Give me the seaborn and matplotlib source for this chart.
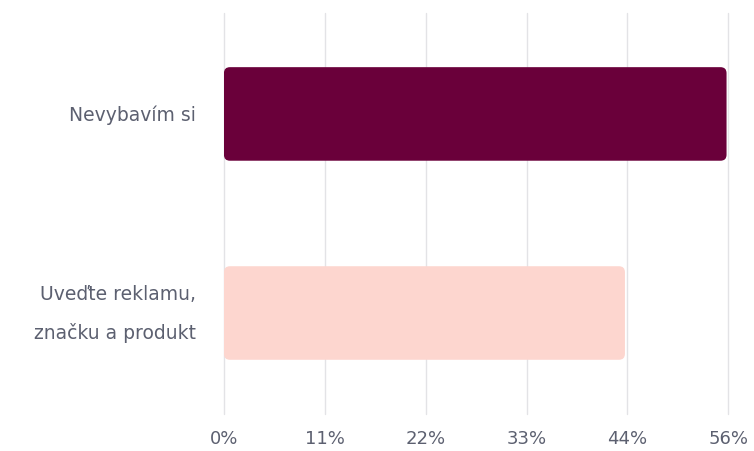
import numpy as np
import pandas as pd
import matplotlib
matplotlib.use("Agg")
import matplotlib.pyplot as plt
import seaborn as sns
from matplotlib.patches import FancyBboxPatch

categories = ["Nevybavím si", "Uveďte reklamu,\nznačku a produkt"]
values = [55.4, 44.2]
colors = ["#6a003a", "#fdd6cf"]
xtick_labels = ["0%", "11%", "22%", "33%", "44%", "56%"]
x_max = 55.6

sns.set_theme(style="white")
plt.rcParams["font.family"] = ["DejaVu Sans"]

df = pd.DataFrame({"category": categories, "value": values})

fig = plt.figure(figsize=(7.54, 4.52), dpi=100)
ax = fig.add_axes([0.297, 0.082, 0.669, 0.887])

sns.barplot(data=df, x="value", y="category", hue="category", palette=colors,
            legend=False, width=0.47, ax=ax, saturation=1)

ax.set_xlim(0, x_max)
ax.set_ylim(1.507, -0.507)
ticks = np.linspace(0, x_max, len(xtick_labels))
ax.set_xticks(ticks)
ax.set_xticklabels(xtick_labels)
ax.grid(axis="x", color="#e3e3e6", linewidth=1)
ax.set_axisbelow(True)
for gl in ax.xaxis.get_gridlines():
    gl.set_clip_on(False)
for s in ax.spines.values():
    s.set_visible(False)
ax.set_xlabel("")
ax.set_ylabel("")
ax.tick_params(axis="y", length=0, pad=20, labelsize=13.5, labelcolor="#5c6070")
ax.tick_params(axis="x", length=0, pad=11, labelsize=13, labelcolor="#5c6070")
for lbl in ax.get_yticklabels():
    lbl.set_linespacing(2.2)
    lbl.set_verticalalignment("center")

# rounded corners
fig.canvas.draw()
px_x = (ax.transData.transform((1, 0))[0] - ax.transData.transform((0, 0))[0])
px_y = abs(ax.transData.transform((0, 1))[1] - ax.transData.transform((0, 0))[1])
radius_px = 6
for p in list(ax.patches):
    x0, y0 = p.get_x(), p.get_y()
    w, h = p.get_width(), p.get_height()
    fc = p.get_facecolor()
    p.remove()
    fb = FancyBboxPatch((x0, y0), w, h,
                        boxstyle=f"round,pad=0,rounding_size={radius_px / px_x}",
                        mutation_aspect=px_x / px_y,
                        facecolor=fc, edgecolor="none", zorder=2)
    ax.add_patch(fb)

fig.savefig("out.png", dpi=100, facecolor="white")
